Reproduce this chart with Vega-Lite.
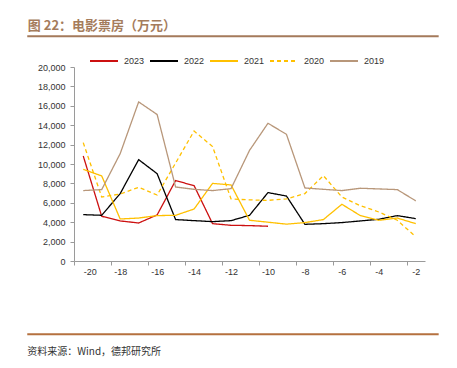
{
  "$schema": "https://vega.github.io/schema/vega-lite/v6.json",
  "width": 351,
  "height": 194,
  "autosize": {"type": "none"},
  "padding": {"left": 74, "top": 67, "right": 32, "bottom": 107},
  "background": "white",
  "config": {"view": {"stroke": null}, "font": "Liberation Sans", "axis": {"labelFont": "Liberation Sans"}, "legend": {"labelFont": "Liberation Sans"}},
  "resolve": {"axis": {"x": "independent", "y": "independent"}},
  "layer": [
    {
      "data": {"values": [
        {"x": -20, "year": "2023", "v": 10830}, {"x": -19, "year": "2023", "v": 4610}, {"x": -18, "year": "2023", "v": 4130}, {"x": -17, "year": "2023", "v": 3920}, {"x": -16, "year": "2023", "v": 4750}, {"x": -15, "year": "2023", "v": 8290}, {"x": -14, "year": "2023", "v": 7770}, {"x": -13, "year": "2023", "v": 3850}, {"x": -12, "year": "2023", "v": 3680}, {"x": -11, "year": "2023", "v": 3650}, {"x": -10, "year": "2023", "v": 3580},
        {"x": -20, "year": "2022", "v": 4780}, {"x": -19, "year": "2022", "v": 4710}, {"x": -18, "year": "2022", "v": 6950}, {"x": -17, "year": "2022", "v": 10450}, {"x": -16, "year": "2022", "v": 9000}, {"x": -15, "year": "2022", "v": 4270}, {"x": -14, "year": "2022", "v": 4160}, {"x": -13, "year": "2022", "v": 4060}, {"x": -12, "year": "2022", "v": 4160}, {"x": -11, "year": "2022", "v": 4710}, {"x": -10, "year": "2022", "v": 7050}, {"x": -9, "year": "2022", "v": 6700}, {"x": -8, "year": "2022", "v": 3780}, {"x": -7, "year": "2022", "v": 3850}, {"x": -6, "year": "2022", "v": 3960}, {"x": -5, "year": "2022", "v": 4130}, {"x": -4, "year": "2022", "v": 4300}, {"x": -3, "year": "2022", "v": 4680}, {"x": -2, "year": "2022", "v": 4370},
        {"x": -20, "year": "2021", "v": 9450}, {"x": -19, "year": "2021", "v": 8770}, {"x": -18, "year": "2021", "v": 4330}, {"x": -17, "year": "2021", "v": 4430}, {"x": -16, "year": "2021", "v": 4680}, {"x": -15, "year": "2021", "v": 4710}, {"x": -14, "year": "2021", "v": 5360}, {"x": -13, "year": "2021", "v": 8000}, {"x": -12, "year": "2021", "v": 7840}, {"x": -11, "year": "2021", "v": 4200}, {"x": -10, "year": "2021", "v": 4000}, {"x": -9, "year": "2021", "v": 3800}, {"x": -8, "year": "2021", "v": 3960}, {"x": -7, "year": "2021", "v": 4270}, {"x": -6, "year": "2021", "v": 5850}, {"x": -5, "year": "2021", "v": 4680}, {"x": -4, "year": "2021", "v": 4200}, {"x": -3, "year": "2021", "v": 4430}, {"x": -2, "year": "2021", "v": 3850},
        {"x": -20, "year": "2020", "v": 12200}, {"x": -19, "year": "2020", "v": 6600}, {"x": -18, "year": "2020", "v": 6900}, {"x": -17, "year": "2020", "v": 7600}, {"x": -16, "year": "2020", "v": 6800}, {"x": -15, "year": "2020", "v": 10100}, {"x": -14, "year": "2020", "v": 13400}, {"x": -13, "year": "2020", "v": 11800}, {"x": -12, "year": "2020", "v": 6400}, {"x": -11, "year": "2020", "v": 6300}, {"x": -10, "year": "2020", "v": 6250}, {"x": -9, "year": "2020", "v": 6400}, {"x": -8, "year": "2020", "v": 6950}, {"x": -7, "year": "2020", "v": 8800}, {"x": -6, "year": "2020", "v": 6600}, {"x": -5, "year": "2020", "v": 5700}, {"x": -4, "year": "2020", "v": 5050}, {"x": -3, "year": "2020", "v": 4200}, {"x": -2, "year": "2020", "v": 2500},
        {"x": -20, "year": "2019", "v": 7260}, {"x": -19, "year": "2019", "v": 7360}, {"x": -18, "year": "2019", "v": 11070}, {"x": -17, "year": "2019", "v": 16400}, {"x": -16, "year": "2019", "v": 15100}, {"x": -15, "year": "2019", "v": 7630}, {"x": -14, "year": "2019", "v": 7390}, {"x": -13, "year": "2019", "v": 7260}, {"x": -12, "year": "2019", "v": 7460}, {"x": -11, "year": "2019", "v": 11400}, {"x": -10, "year": "2019", "v": 14200}, {"x": -9, "year": "2019", "v": 13060}, {"x": -8, "year": "2019", "v": 7530}, {"x": -7, "year": "2019", "v": 7390}, {"x": -6, "year": "2019", "v": 7260}, {"x": -5, "year": "2019", "v": 7500}, {"x": -4, "year": "2019", "v": 7430}, {"x": -3, "year": "2019", "v": 7360}, {"x": -2, "year": "2019", "v": 6200}
      ]},
      "mark": {"type": "line", "strokeWidth": 1.3, "clip": false},
      "encoding": {
        "x": {"field": "x", "type": "quantitative", "scale": {"domain": [-20.5, -1.5], "nice": false, "zero": false},
          "axis": {"values": [-20.5, -18.5, -16.5, -14.5, -12.5, -10.5, -8.5, -6.5, -4.5, -2.5], "labelExpr": "'' + (datum.value + 0.5)", "labelOffset": 9.24, "grid": false, "title": null, "labelFontSize": 9, "labelFont": "Liberation Sans", "labelColor": "#333333", "domainColor": "#9a9a9a", "tickColor": "#9a9a9a", "tickSize": 4, "labelPadding": 2}},
        "y": {"field": "v", "type": "quantitative", "scale": {"domain": [0, 20000], "nice": false, "zero": false},
          "axis": {"values": [0, 2000, 4000, 6000, 8000, 10000, 12000, 14000, 16000, 18000, 20000], "labelExpr": "format(datum.value, ',')", "grid": false, "title": null, "labelFontSize": 9, "labelFont": "Liberation Sans", "labelColor": "#333333", "domainColor": "#9a9a9a", "tickColor": "#9a9a9a", "tickSize": 4, "labelPadding": 5}},
        "color": {"field": "year", "type": "nominal", "scale": {"domain": ["2023", "2022", "2021", "2020", "2019"], "range": ["#CC1010", "#000000", "#FFC000", "#FFC000", "#B8977A"]},
          "legend": {"orient": "none", "legendX": 15, "legendY": -21, "direction": "horizontal", "title": null, "symbolType": "stroke", "symbolSize": 784, "symbolStrokeWidth": 2, "labelFontSize": 9, "labelColor": "#333333", "columnPadding": 1, "labelOffset": 5}},
        "strokeDash": {"field": "year", "type": "nominal", "scale": {"domain": ["2023", "2022", "2021", "2020", "2019"], "range": [[1, 0], [1, 0], [1, 0], [4, 3], [1, 0]]},
          "legend": {"orient": "none", "legendX": 15, "legendY": -21, "direction": "horizontal", "title": null, "symbolType": "stroke", "symbolSize": 784, "symbolStrokeWidth": 2, "labelFontSize": 9, "labelColor": "#333333", "columnPadding": 1, "labelOffset": 5}}
      }
    },
    {
      "data": {"values": [{}]},
      "mark": {"type": "rule", "color": "#A47A5B", "strokeWidth": 2, "clip": false},
      "encoding": {
        "x": {"datum": -23.03, "type": "quantitative", "scale": {"domain": [-20.5, -1.5], "nice": false, "zero": false}, "axis": null},
        "x2": {"datum": -0.76},
        "y": {"datum": 23165, "type": "quantitative", "scale": {"domain": [0, 20000], "nice": false, "zero": false}, "axis": null}
      }
    },
    {
      "data": {"values": [{}]},
      "mark": {"type": "rule", "color": "#B5713F", "strokeWidth": 2, "clip": false},
      "encoding": {
        "x": {"datum": -23.03, "type": "quantitative", "scale": {"domain": [-20.5, -1.5], "nice": false, "zero": false}, "axis": null},
        "x2": {"datum": -0.76},
        "y": {"datum": -7557, "type": "quantitative", "scale": {"domain": [0, 20000], "nice": false, "zero": false}, "axis": null}
      }
    },
    {
      "data": {"values": [{}]},
      "mark": {"type": "text", "align": "left", "baseline": "middle", "fontSize": 13, "fontWeight": "bold", "font": "Noto Sans CJK SC", "color": "#A57C5C", "clip": false},
      "encoding": {
        "x": {"datum": -23.0, "type": "quantitative", "scale": {"domain": [-20.5, -1.5], "nice": false, "zero": false}, "axis": null},
        "y": {"datum": 24250, "type": "quantitative", "scale": {"domain": [0, 20000], "nice": false, "zero": false}, "axis": null},
        "text": {"value": "图 22：电影票房（万元）"}
      }
    },
    {
      "data": {"values": [{}]},
      "mark": {"type": "text", "align": "left", "baseline": "middle", "fontSize": 10, "font": "Noto Sans CJK SC", "color": "#333333", "clip": false},
      "encoding": {
        "x": {"datum": -23.03, "type": "quantitative", "scale": {"domain": [-20.5, -1.5], "nice": false, "zero": false}, "axis": null},
        "y": {"datum": -9420, "type": "quantitative", "scale": {"domain": [0, 20000], "nice": false, "zero": false}, "axis": null},
        "text": {"value": "资料来源：Wind，德邦研究所"}
      }
    }
  ]
}
